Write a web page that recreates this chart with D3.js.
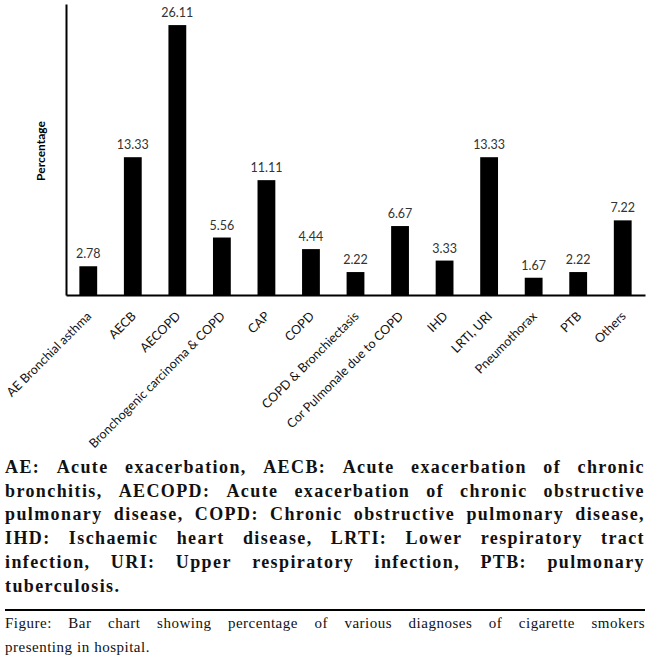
<!DOCTYPE html>
<html>
<head>
<meta charset="utf-8">
<script src="https://cdn.jsdelivr.net/npm/d3@7"></script>
<style>
  body { margin: 0; background: #fff; }
  svg { display: block; }
</style>
</head>
<body>
<div id="chart"></div>
<script>
// data
var categories = ["AE Bronchial asthma", "AECB", "AECOPD", "Bronchogenic carcinoma & COPD",
  "CAP", "COPD", "COPD & Bronchiectasis", "Cor Pulmonale due to COPD", "IHD",
  "LRTI, URI", "Pneumothorax", "PTB", "Others"];
var percentages = [2.78, 13.33, 26.11, 5.56, 11.11, 4.44, 2.22, 6.67, 3.33, 13.33, 1.67, 2.22, 7.22];
var yTitle = "Percentage";

var noteLines = [
  "AE: Acute exacerbation, AECB: Acute exacerbation of chronic",
  "bronchitis, AECOPD: Acute exacerbation of chronic obstructive",
  "pulmonary disease, COPD: Chronic obstructive pulmonary disease,",
  "IHD: Ischaemic heart disease, LRTI: Lower respiratory tract",
  "infection, URI: Upper respiratory infection, PTB: pulmonary",
  "tuberculosis."
];
var captionLines = [
  "Figure: Bar chart showing percentage of various diagnoses of cigarette smokers",
  "presenting in hospital."
];

var width = 650, height = 660;
// plot box (don't call it "top", that's window.top)
var plotLeft = 66, plotRight = 645, plotTop = 4, plotBase = 295;

var svg = d3.select("#chart").append("svg")
  .attr("width", width)
  .attr("height", height);

var x = d3.scaleBand()
  .domain(categories)
  .range([plotLeft, plotRight])
  .paddingInner(0.6)
  .paddingOuter(0.3);

var y = d3.scaleLinear()
  .domain([0, 28.15])
  .range([plotBase, plotTop]);

// bars
svg.selectAll(".bar")
  .data(percentages)
  .enter().append("rect")
  .attr("class", "bar")
  .attr("x", function(d, i) { return x(categories[i]); })
  .attr("y", function(d) { return y(d); })
  .attr("width", x.bandwidth())
  .attr("height", function(d) { return y(0) - y(d); })
  .style("fill", "#000");

// value labels
svg.selectAll(".val")
  .data(percentages)
  .enter().append("text")
  .attr("class", "val")
  .attr("x", function(d, i) { return x(categories[i]) + x.bandwidth() / 2; })
  .attr("y", function(d) { return y(d) - 8; })
  .attr("text-anchor", "middle")
  .style("font-family", "Lato, sans-serif")
  .style("font-size", "12.5px")
  .style("fill", "#333")
  .text(function(d) { return d3.format(".2f")(d); });

// y axis - just the line
var yAxis = svg.append("g")
  .attr("transform", "translate(" + plotLeft + ",0)")
  .call(d3.axisLeft(y).ticks(0).tickSizeOuter(0));
yAxis.select(".domain").style("stroke", "#000").style("stroke-width", 2);

// x axis with rotated labels
var xAxis = svg.append("g")
  .attr("transform", "translate(0," + plotBase + ")")
  .call(d3.axisBottom(x).tickSize(0).tickSizeOuter(0));
xAxis.select(".domain").style("stroke", "#000").style("stroke-width", 2);
xAxis.selectAll(".tick text")
  .attr("x", null).attr("y", null).attr("dy", null)
  .attr("transform", "translate(4,22) rotate(-45)")
  .style("text-anchor", "end")
  .style("font-family", "Lato, sans-serif")
  .style("font-size", "12.6px")
  .style("fill", "#111");

svg.append("text")
  .attr("transform", "translate(45,151) rotate(-90)")
  .attr("text-anchor", "middle")
  .style("font-family", "Lato, sans-serif")
  .style("font-weight", "bold")
  .style("font-size", "12px")
  .text(yTitle);

// justified text block, word by word
function justify(lines, y0, lh, fontSize, weight, spacing) {
  var g = svg.append("g")
    .style("font-family", "'Liberation Serif', 'Times New Roman', serif")
    .style("font-size", fontSize + "px")
    .style("font-weight", weight)
    .style("letter-spacing", spacing + "px")
    .style("fill", "#111");
  lines.forEach(function(line, li) {
    var words = line.split(" ");
    var widths = words.map(function(w) {
      var t = g.append("text").text(w);
      var len = t.node().getComputedTextLength();
      t.remove();
      return len;
    });
    var total = d3.sum(widths);
    var last = li === lines.length - 1;
    var gap = (last || words.length < 2) ? fontSize * 0.3 : (plotRight - 5 - total) / (words.length - 1);
    var cx = 5;
    words.forEach(function(w, wi) {
      g.append("text").attr("x", cx).attr("y", y0 + li * lh).text(w);
      cx += widths[wi] + gap;
    });
  });
}

justify(noteLines, 473, 23.7, 18, "bold", 1.4);

svg.append("line")
  .attr("x1", 5).attr("x2", plotRight)
  .attr("y1", 610).attr("y2", 610)
  .style("stroke", "#000")
  .style("stroke-width", 2);

justify(captionLines, 628, 24, 15, "normal", 0.5);
</script>
</body>
</html>
